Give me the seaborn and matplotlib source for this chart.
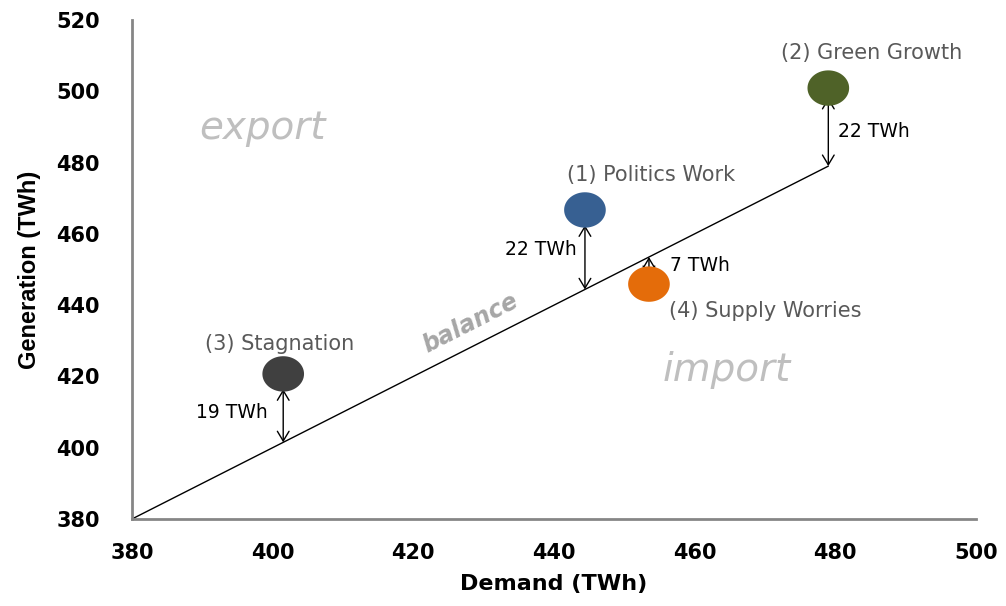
import numpy as np
import pandas as pd
import matplotlib
matplotlib.use("Agg")
import matplotlib.pyplot as plt
from matplotlib.path import Path
from matplotlib.markers import MarkerStyle
import seaborn as sns

# scenario data
scenarios = ["(1) Politics Work", "(2) Green Growth", "(3) Stagnation", "(4) Supply Worries"]
demand = [444.4, 479.0, 401.5, 453.5]
generation = [466.7, 500.9, 420.7, 445.9]
gap_labels = ["22 TWh", "22 TWh", "19 TWh", "7 TWh"]
colors = ["#376092", "#4F6228", "#404040", "#E46C0A"]

# annotation anchors (data coords)
name_pos = [(453.8, 476.5), (485.1, 510.7), (401.0, 429.1), (470.0, 438.3)]
gap_pos = [(438.2, 455.5), (485.5, 488.8), (394.2, 410.0), (460.8, 451.0)]
arrow_shrink = [11, 7, 11, 5]

balance_x = [380, 479]
balance_y = [380, 479]

x_ticks = [380, 400, 420, 440, 460, 480, 500]
y_ticks = [380, 400, 420, 440, 460, 480, 500, 520]

df = pd.DataFrame({"scenario": scenarios, "demand": demand, "generation": generation})

sns.set_style("white")
plt.rcParams["font.family"] = ["DejaVu Sans"]
plt.rcParams["text.color"] = "black"
plt.rcParams["xtick.color"] = "black"
plt.rcParams["ytick.color"] = "black"
plt.rcParams["axes.labelcolor"] = "black"

fig, ax = plt.subplots(figsize=(10.06, 6.06), dpi=100)
fig.subplots_adjust(left=0.1312, right=0.9702, top=0.967, bottom=0.1436)

# balance line
ax.plot(balance_x, balance_y, color="black", lw=1, zorder=1)

# ellipse marker
t = np.linspace(0, 2 * np.pi, 60)
ellipse = MarkerStyle(Path(np.column_stack([np.cos(t), 0.85 * np.sin(t)]), closed=True))

sns.scatterplot(data=df, x="demand", y="generation", hue="scenario",
                palette=colors, marker=ellipse, s=900, linewidth=0,
                legend=False, ax=ax, zorder=3)

for i in range(len(scenarios)):
    ax.annotate("", xy=(demand[i], generation[i]), xytext=(demand[i], demand[i]),
                arrowprops=dict(arrowstyle="<->,head_length=0.5,head_width=0.3",
                                color="black", lw=1, shrinkA=0,
                                shrinkB=arrow_shrink[i], mutation_scale=14),
                zorder=2)
    ax.text(name_pos[i][0], name_pos[i][1], scenarios[i], ha="center", va="center",
            fontsize=15, color="#595959")
    ax.text(gap_pos[i][0], gap_pos[i][1], gap_labels[i], ha="center", va="center",
            fontsize=13.5, color="black")

ax.text(398.5, 489.7, "export", ha="center", va="center", fontsize=28,
        style="italic", color="#BFBFBF", fontweight="light")
ax.text(464.6, 421.8, "import", ha="center", va="center", fontsize=28,
        style="italic", color="#BFBFBF", fontweight="light")
ax.text(428.1, 435.0, "balance", ha="center", va="center", fontsize=17,
        style="italic", fontweight="bold", color="#A6A6A6", rotation=27)

ax.set_xlim(380, 500)
ax.set_ylim(380, 520)
ax.set_xticks(x_ticks)
ax.set_yticks(y_ticks)
ax.tick_params(axis="both", direction="out", length=8, width=1.5, color="#868686",
               labelsize=15, labelcolor="black")
ax.tick_params(axis="x", pad=9)
ax.tick_params(axis="y", pad=15)
for lbl in ax.get_xticklabels() + ax.get_yticklabels():
    lbl.set_fontweight("bold")

for side in ["top", "right"]:
    ax.spines[side].set_visible(False)
for side in ["left", "bottom"]:
    ax.spines[side].set_color("#868686")
    ax.spines[side].set_linewidth(2)

ax.set_xlabel("Demand (TWh)", fontsize=16, fontweight="bold", labelpad=8)
ax.set_ylabel("Generation (TWh)", fontsize=17, fontweight="bold",
              family=["Liberation Sans"], labelpad=11)

fig.savefig("out.png", dpi=100)
